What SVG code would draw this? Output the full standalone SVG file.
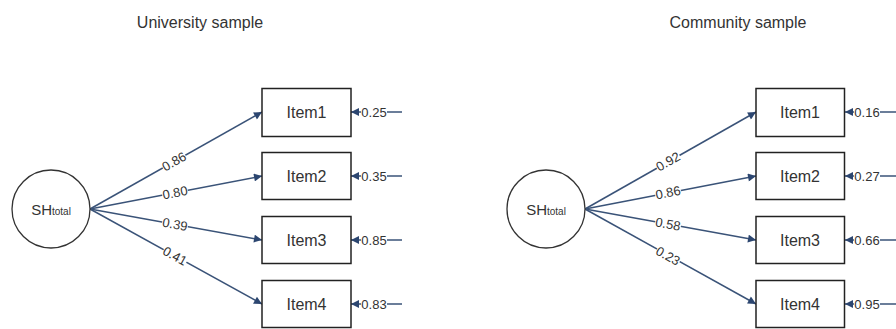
<svg xmlns="http://www.w3.org/2000/svg" width="896" height="329" viewBox="0 0 896 329">
<style>
text{font-family:"Liberation Sans",Arial,sans-serif;fill:#333}
.title{font-size:16px;text-anchor:middle}
.box{fill:#fff;stroke:#222;stroke-width:1.5}
.circ{fill:#fff;stroke:#333;stroke-width:1.3}
.item{font-size:16px;text-anchor:middle}
.lab{font-size:13px;text-anchor:middle}
.bg{fill:#fff}
.edge{stroke:#3a5378;stroke-width:1.5;fill:none;marker-end:url(#ah)}
</style>
<defs>
<marker id="ah" viewBox="0 0 10 10" refX="10" refY="5" markerWidth="9" markerHeight="8" markerUnits="userSpaceOnUse" orient="auto">
<path d="M0,0 L10,5 L0,10 Z" fill="#2c4670"/>
</marker>
</defs>
<rect width="896" height="329" fill="#fff"/>
<text class="title" x="200" y="28">University sample</text>
<text class="title" x="738" y="28">Community sample</text>

<g id="connectors">
<path class="edge" d="M90,209 L262,112"/>
<path class="edge" d="M90,209 L262,176"/>
<path class="edge" d="M90,209 L262,240"/>
<path class="edge" d="M90,209 L262,304"/>
<path class="edge" d="M402,112 L351,112"/>
<path class="edge" d="M402,176 L351,176"/>
<path class="edge" d="M402,240 L351,240"/>
<path class="edge" d="M402,304 L351,304"/>
<path class="edge" d="M585,209 L756,112"/>
<path class="edge" d="M585,209 L756,176"/>
<path class="edge" d="M585,209 L756,240"/>
<path class="edge" d="M585,209 L756,304"/>
<path class="edge" d="M898,112 L845,112"/>
<path class="edge" d="M898,176 L845,176"/>
<path class="edge" d="M898,240 L845,240"/>
<path class="edge" d="M898,304 L845,304"/>
<g transform="translate(174,161.5) rotate(-29.4)"><rect class="bg" x="-13" y="-6" width="26" height="12"/><text class="lab" y="4.5">0.86</text></g>
<g transform="translate(175,192.7) rotate(-10.9)"><rect class="bg" x="-13" y="-6" width="26" height="12"/><text class="lab" y="4.5">0.80</text></g>
<g transform="translate(175,224.3) rotate(10.2)"><rect class="bg" x="-13" y="-6" width="26" height="12"/><text class="lab" y="4.5">0.39</text></g>
<g transform="translate(175,256) rotate(28.9)"><rect class="bg" x="-13" y="-6" width="26" height="12"/><text class="lab" y="4.5">0.41</text></g>
<g transform="translate(374,112)"><rect class="bg" x="-13" y="-6" width="26" height="12"/><text class="lab" y="4.5">0.25</text></g>
<g transform="translate(374,176)"><rect class="bg" x="-13" y="-6" width="26" height="12"/><text class="lab" y="4.5">0.35</text></g>
<g transform="translate(374,240)"><rect class="bg" x="-13" y="-6" width="26" height="12"/><text class="lab" y="4.5">0.85</text></g>
<g transform="translate(374,304)"><rect class="bg" x="-13" y="-6" width="26" height="12"/><text class="lab" y="4.5">0.83</text></g>
<g transform="translate(668,161.5) rotate(-29.6)"><rect class="bg" x="-13" y="-6" width="26" height="12"/><text class="lab" y="4.5">0.92</text></g>
<g transform="translate(668,192.6) rotate(-10.9)"><rect class="bg" x="-13" y="-6" width="26" height="12"/><text class="lab" y="4.5">0.86</text></g>
<g transform="translate(668,224.1) rotate(10.2)"><rect class="bg" x="-13" y="-6" width="26" height="12"/><text class="lab" y="4.5">0.58</text></g>
<g transform="translate(668,256) rotate(29)"><rect class="bg" x="-13" y="-6" width="26" height="12"/><text class="lab" y="4.5">0.23</text></g>
<g transform="translate(867,112)"><rect class="bg" x="-13" y="-6" width="26" height="12"/><text class="lab" y="4.5">0.16</text></g>
<g transform="translate(867,176)"><rect class="bg" x="-13" y="-6" width="26" height="12"/><text class="lab" y="4.5">0.27</text></g>
<g transform="translate(867,240)"><rect class="bg" x="-13" y="-6" width="26" height="12"/><text class="lab" y="4.5">0.66</text></g>
<g transform="translate(867,304)"><rect class="bg" x="-13" y="-6" width="26" height="12"/><text class="lab" y="4.5">0.95</text></g>
</g>

<g id="sh_univ"><circle class="circ" cx="51" cy="209" r="39"/><text x="51" y="215" text-anchor="middle"><tspan font-size="15">SH</tspan><tspan font-size="10">total</tspan></text></g>
<g id="u_item1"><rect class="box" x="262" y="88.5" width="89" height="48"/><text class="item" x="306.5" y="118">Item1</text></g>
<g id="u_item2"><rect class="box" x="262" y="152.5" width="89" height="47"/><text class="item" x="306.5" y="182">Item2</text></g>
<g id="u_item3"><rect class="box" x="262" y="216.5" width="89" height="47"/><text class="item" x="306.5" y="246">Item3</text></g>
<g id="u_item4"><rect class="box" x="262" y="280.5" width="89" height="47"/><text class="item" x="306.5" y="310">Item4</text></g>

<g id="sh_comm"><circle class="circ" cx="546" cy="209" r="39"/><text x="546" y="215" text-anchor="middle"><tspan font-size="15">SH</tspan><tspan font-size="10">total</tspan></text></g>
<g id="c_item1"><rect class="box" x="756" y="88.5" width="88.5" height="48"/><text class="item" x="800" y="118">Item1</text></g>
<g id="c_item2"><rect class="box" x="756" y="152.5" width="88.5" height="47"/><text class="item" x="800" y="182">Item2</text></g>
<g id="c_item3"><rect class="box" x="756" y="216.5" width="88.5" height="47"/><text class="item" x="800" y="246">Item3</text></g>
<g id="c_item4"><rect class="box" x="756" y="280.5" width="88.5" height="47"/><text class="item" x="800" y="310">Item4</text></g>
</svg>
